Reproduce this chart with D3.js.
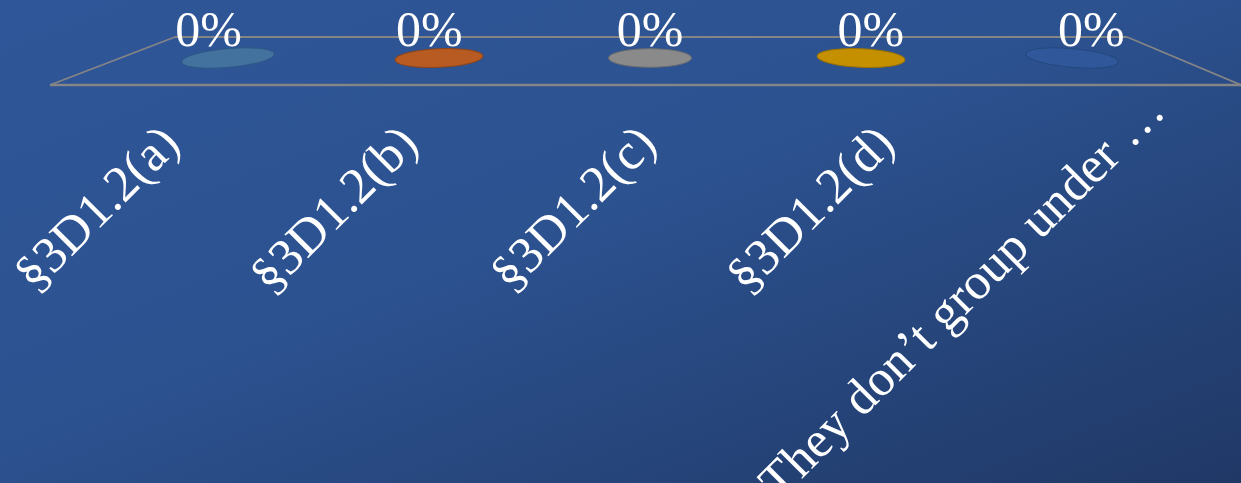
<!DOCTYPE html>
<html>
<head>
<meta charset="utf-8">
<script src="https://cdn.jsdelivr.net/npm/d3@7"></script>
<style>
  html, body { margin: 0; padding: 0; background: #2b4f8e; }
  svg { display: block; }
</style>
</head>
<body>
<svg id="chart" width="1241" height="483"></svg>
<script>
// ---- data ----
const categories = ["§3D1.2(a)", "§3D1.2(b)", "§3D1.2(c)", "§3D1.2(d)", "They don’t group under …"];
const values = [0, 0, 0, 0, 0];
const barColors = ["#43729f", "#b75b22", "#8a8a8a", "#c49000", "#30579a"];
const barStrokes = ["#305a85", "#8f451a", "#6e6e6e", "#9a7200", "#24497f"];

// ---- layout ----
const W = 1241, H = 483;
const svg = d3.select("#chart");
const defs = svg.append("defs");
const grad = defs.append("linearGradient").attr("id", "bg")
  .attr("x1", 0).attr("y1", 0).attr("x2", 1).attr("y2", 1);
grad.append("stop").attr("offset", 0).attr("stop-color", "#2f5698");
grad.append("stop").attr("offset", 0.45).attr("stop-color", "#2c5290");
grad.append("stop").attr("offset", 1).attr("stop-color", "#203866");
svg.append("rect").attr("width", W).attr("height", H).attr("fill", "url(#bg)");

// floor (3D plane)
const backY = 37, frontY = 85;
const backX = [175, 1127], frontX = [50, 1241];
const floorStroke = "#858585";
const floor = svg.append("g");
floor.append("line").attr("x1", backX[0]).attr("y1", backY).attr("x2", backX[1]).attr("y2", backY)
  .attr("stroke", floorStroke).attr("stroke-width", 1.8);
floor.append("line").attr("x1", frontX[0]).attr("y1", frontY).attr("x2", frontX[1]).attr("y2", frontY)
  .attr("stroke", floorStroke).attr("stroke-width", 2.6);
floor.append("line").attr("x1", backX[0]).attr("y1", backY).attr("x2", frontX[0]).attr("y2", frontY)
  .attr("stroke", floorStroke).attr("stroke-width", 1.8);
floor.append("line").attr("x1", backX[1]).attr("y1", backY).attr("x2", frontX[1]).attr("y2", frontY)
  .attr("stroke", floorStroke).attr("stroke-width", 1.8);

// scales
const xBar = d3.scaleBand().domain(categories).range([122.5, 1177.5]);
const xAxis = d3.scaleBand().domain(categories).range(frontX);
const y = d3.scaleLinear().domain([0, 1]).range([58, -200]);
const midX = (xBar.range()[0] + xBar.range()[1]) / 2;
const half = xBar.bandwidth() * 2;

// bars (cylinders of zero height -> only the top face visible)
const bars = svg.append("g").selectAll("g").data(categories).join("g");
bars.each(function(c, i) {
  const g = d3.select(this);
  const cx = xBar(c) + xBar.bandwidth() / 2;
  const t = (cx - midX) / half;
  const rx = 41.5 + 5 * Math.abs(t);
  const ry = 9.3;
  const y0 = y(0), y1 = y(values[i]);
  if (y0 - y1 > 0) {
    g.append("rect").attr("x", cx - rx).attr("y", y1).attr("width", rx * 2).attr("height", y0 - y1)
      .attr("fill", barColors[i]);
  }
  g.append("ellipse")
    .attr("cx", cx).attr("cy", y1).attr("rx", rx).attr("ry", ry)
    .attr("transform", `rotate(${5 * t},${cx},${y1})`)
    .attr("fill", barColors[i]).attr("stroke", barStrokes[i]).attr("stroke-width", 1);
});

// value labels
const fmt = d3.format(".0%");
svg.append("g").selectAll("text").data(categories).join("text")
  .attr("x", (c) => midX + (xBar(c) + xBar.bandwidth() / 2 - midX) * 1.046)
  .attr("y", (c, i) => y(values[i]) - 12)
  .attr("text-anchor", "middle")
  .attr("font-family", "Liberation Serif, serif")
  .attr("font-size", 50)
  .attr("fill", "#ffffff")
  .text((c, i) => fmt(values[i]));

// category labels
svg.append("g").selectAll("text").data(categories).join("text")
  .attr("transform", (c) => {
    const tx = xAxis(c) + xAxis.bandwidth() / 2 + 13;
    const shift = c.endsWith("…") ? 46 : 0;
    const x = tx + shift * 0.707, yy = 146 - shift * 0.707;
    return `translate(${x},${yy}) rotate(-45)`;
  })
  .attr("text-anchor", "end")
  .attr("font-family", "Liberation Serif, serif")
  .attr("font-size", 51)
  .attr("fill", "#ffffff")
  .text((c) => c);
</script>
</body>
</html>
